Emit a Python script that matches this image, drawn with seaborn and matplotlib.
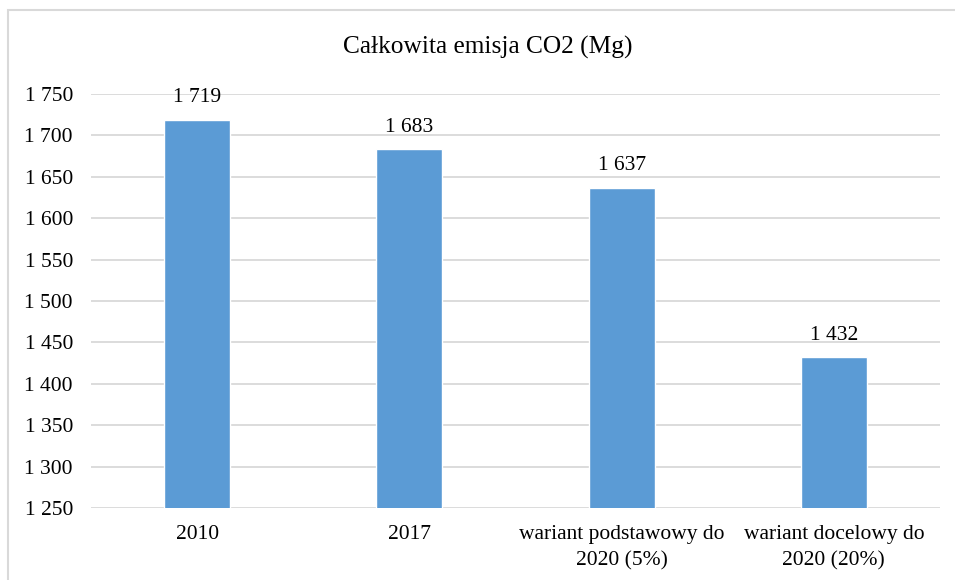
import matplotlib
matplotlib.use("Agg")
import matplotlib.pyplot as plt
from matplotlib.patches import Rectangle
from matplotlib.ticker import FuncFormatter
import seaborn as sns
import pandas as pd

categories = ["2010", "2017", "wariant podstawowy do\n2020 (5%)", "wariant docelowy do\n2020 (20%)"]
emissions = [1719, 1683, 1637, 1432]
y_ticks = [1250, 1300, 1350, 1400, 1450, 1500, 1550, 1600, 1650, 1700, 1750]

sns.set_style("white")
plt.rcParams["font.family"] = ["Liberation Serif", "DejaVu Serif"]


def spaced(v):
    return f"{int(round(v)):,}".replace(",", " ")


df = pd.DataFrame({"kategoria": categories, "emisja": emissions})

fig = plt.figure(figsize=(9.55, 5.8), dpi=100)
ax = fig.add_axes([91 / 955, 1 - 508 / 580, (940 - 91) / 955, (508 - 94) / 580])

sns.barplot(data=df, x="kategoria", y="emisja", color="#5B9BD5", width=0.31,
            saturation=1, ax=ax, zorder=3)

ax.set_ylim(1250, 1750)
ax.set_yticks(y_ticks)
ax.yaxis.set_major_formatter(FuncFormatter(lambda v, p: spaced(v)))
ax.grid(axis="y", color="#D9D9D9", linewidth=1.3, zorder=0)
ax.set_axisbelow(True)
for s in ax.spines.values():
    s.set_visible(False)
ax.tick_params(axis="both", length=0, labelsize=15.5, colors="#000000")
ax.tick_params(axis="y", pad=13)
ax.tick_params(axis="x", pad=12)
for lbl in ax.get_xticklabels():
    lbl.set_linespacing(1.5)
ax.set_xlabel("")
ax.set_ylabel("")

for i, v in enumerate(emissions):
    ax.annotate(spaced(v), (i, v), xytext=(0, 9), textcoords="offset points",
                ha="center", va="bottom", fontsize=15.5, color="#000000")

fig.text(488 / 955, 1 - 47 / 580, "Całkowita emisja CO2 (Mg)", ha="center", va="center",
         fontsize=18.3, color="#000000")

# chart frame
fig.patches.append(Rectangle((8 / 955, -0.1), 1.2, 1 - 10 / 580 + 0.1, transform=fig.transFigure,
                             fill=False, edgecolor="#D9D9D9", linewidth=1.5))

fig.savefig("out.png", dpi=100)
